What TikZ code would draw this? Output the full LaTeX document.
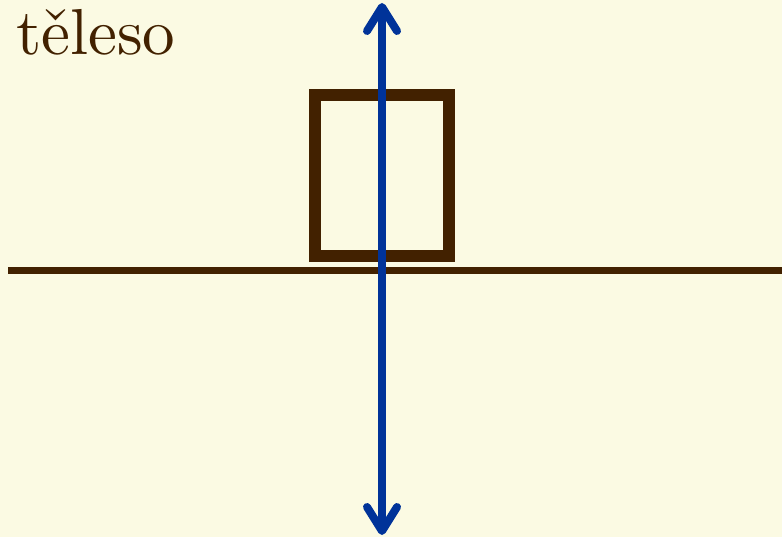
\documentclass[tikz,border=0pt]{standalone}
\usepackage{fontspec}
\newfontfamily\titlefont{lmroman10-regular.otf}
\usetikzlibrary{
    arrows.meta,
    positioning
}
\definecolor{paper}{RGB}{251,250,227}
\definecolor{bodybrown}{RGB}{66,33,0}
\definecolor{forceblue}{RGB}{0,51,153}
\tikzset{
    % --- Body resting on the ground (rectangle) ---
    body/.style = {
        rectangle, draw=bodybrown, line width=12pt,
        minimum width=134pt, minimum height=161pt,
        inner sep=0pt
    },
    % --- Ground line ---
    ground/.style = {
        draw=bodybrown, line width=7.5pt
    },
    % --- Title label ---
    title/.style = {
        font=\titlefont\fontsize{65}{70}\selectfont, text=bodybrown,
        inner sep=0pt, anchor=base west
    },
    % --- Double-headed axis arrow ---
    axis arrow/.style = {
        draw=forceblue, line width=8pt,
        {Straight Barb[round, length=24pt, width=30pt]}-{Straight Barb[round, length=24pt, width=30pt]}
    }
}

\begin{document}
\begin{tikzpicture}[x=1pt, y=-1pt]

% ---------------------------------------------------------
% Background
% ---------------------------------------------------------
\fill[paper] (0,0) rectangle (782,537);
\useasboundingbox (0,0) rectangle (782,537);

% ---------------------------------------------------------
% Title
% ---------------------------------------------------------
\node[title] (Title) at (16,55) {těleso};

% ---------------------------------------------------------
% Ground and body
% ---------------------------------------------------------
\coordinate (GroundL) at (8,270.5);
\coordinate (GroundR) at (782,270.5);
\draw[ground] (GroundL) -- (GroundR);

\node[body] (Body) at (382,175.5) {};

% ---------------------------------------------------------
% Vertical arrow through the body
% ---------------------------------------------------------
\coordinate (ArrowTop) at (382,3);
\coordinate (ArrowBot) at (382,535);
\draw[axis arrow] (ArrowBot) -- (ArrowTop);

\end{tikzpicture}
\end{document}
